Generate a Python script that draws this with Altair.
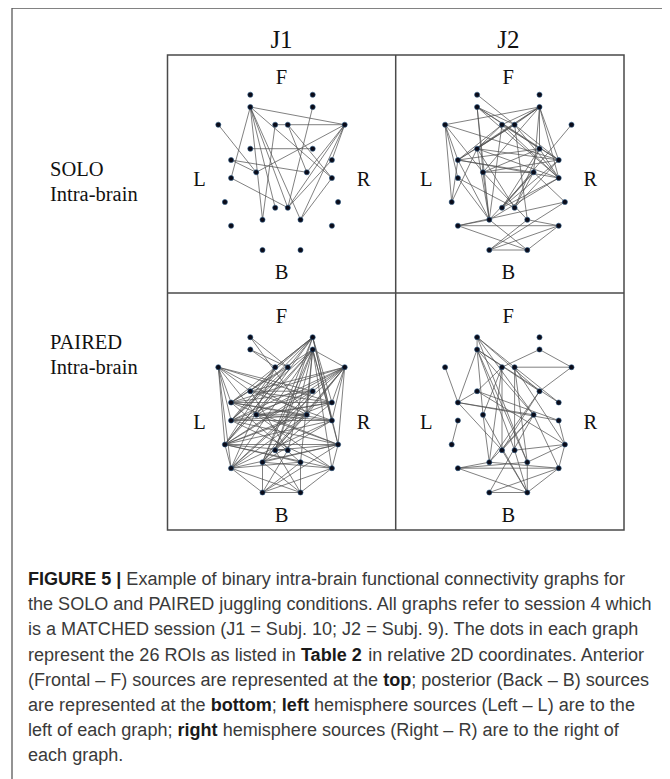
import altair as alt
import pandas as pd

# ---------------- data ----------------
# 26 ROIs, relative 2D coordinates (x: left/right offset, y: front->back offset)
roi_x = [-31.2, 31.2, -31.2, 31.2, -63.2, -6.3, 6.3, 63.2, -31.2, 31.2,
         -50.4, 50.4, -25.3, 25.3, -50.4, 50.4, -56.6, 56.6, -6.3, 6.3,
         -19.0, 19.0, -50.4, 50.4, -19.0, 19.0]
roi_y = [0, 0, 12.3, 12.3, 30, 30, 30, 30, 54, 54,
         65.3, 65.3, 77.6, 77.6, 83.3, 83.3, 107.3, 107.3, 113, 113,
         125, 125, 131, 131, 155.3, 155.3]

columns = ["J1", "J2"]
rows = ["SOLO", "PAIRED"]

edges_j1_solo = [(3, 8), (3, 15), (3, 21), (3, 20), (3, 22), (3, 16), (3, 19),
                 (4, 20), (5, 13), (6, 8), (6, 21), (7, 14), (7, 16), (8, 13),
                 (8, 20), (8, 22), (8, 12), (8, 14), (9, 10), (11, 14), (11, 13),
                 (15, 20), (12, 20), (16, 22)]

edges_j2_solo = [(1, 7), (4, 5), (4, 6), (4, 7), (4, 9), (4, 11), (4, 13), (4, 10),
                 (4, 12), (4, 16), (4, 14), (3, 7), (3, 12), (3, 16), (3, 13),
                 (3, 21), (3, 10), (5, 17), (5, 11), (5, 13), (5, 12), (5, 15),
                 (6, 11), (6, 16), (6, 12), (6, 21), (6, 9), (7, 9), (7, 11),
                 (7, 12), (7, 16), (7, 22), (8, 19), (9, 12), (9, 16), (9, 21),
                 (9, 20), (10, 11), (10, 13), (10, 19), (10, 20), (10, 16),
                 (11, 21), (11, 14), (11, 16), (12, 19), (12, 20), (12, 13),
                 (13, 14), (13, 21), (13, 22), (14, 19), (14, 20), (14, 21),
                 (15, 21), (15, 20), (16, 21), (16, 19), (17, 11), (17, 9),
                 (18, 23), (18, 25), (18, 14), (21, 23), (21, 26), (22, 25),
                 (22, 24), (23, 24), (23, 26), (24, 25), (24, 26), (25, 26)]

edges_j1_paired = [(1, 7), (1, 14), (3, 7), (3, 6),
                   (2, 11), (2, 9), (2, 13), (2, 15), (2, 17), (2, 21), (2, 19),
                   (2, 12), (2, 18), (2, 16), (2, 6),
                   (4, 8), (4, 11), (4, 13), (4, 15), (4, 17), (4, 19), (4, 20),
                   (4, 21), (4, 22), (4, 14), (4, 16), (4, 18), (4, 24), (4, 23),
                   (5, 9), (5, 11), (5, 15), (5, 17), (5, 12), (5, 14), (5, 13),
                   (5, 10), (5, 23), (6, 23), (6, 15), (6, 17), (7, 11), (7, 17),
                   (7, 15), (8, 9), (8, 11), (8, 13), (8, 15), (8, 17), (8, 10),
                   (8, 16), (8, 18), (8, 21), (8, 19), (8, 12), (8, 14), (8, 23),
                   (9, 10), (9, 12), (9, 16), (9, 20), (10, 11), (10, 15), (10, 17),
                   (10, 21), (10, 23), (11, 12), (11, 16), (11, 18), (11, 14),
                   (11, 22), (12, 15), (12, 17), (12, 13), (12, 19), (13, 14),
                   (13, 16), (13, 24), (13, 18), (14, 15), (14, 17), (14, 21),
                   (14, 23), (15, 16), (15, 18), (15, 24), (16, 17), (16, 23),
                   (16, 21), (17, 18), (17, 23), (17, 22), (17, 20), (17, 24),
                   (18, 19), (18, 21), (18, 23), (18, 24), (18, 25), (19, 20),
                   (19, 26), (20, 25), (21, 25), (21, 26), (21, 24), (22, 25),
                   (22, 26), (22, 23), (23, 25), (23, 26), (24, 25), (24, 26),
                   (25, 26)]

edges_j2_paired = [(1, 3), (1, 10), (1, 12), (1, 14), (1, 22), (3, 11), (3, 13),
                   (3, 20), (3, 14), (3, 12), (3, 22), (3, 10), (4, 6), (4, 8),
                   (7, 8), (8, 10), (5, 11), (6, 9), (6, 13), (6, 21), (6, 19),
                   (7, 18), (7, 22), (7, 20), (9, 11), (9, 16), (9, 18), (10, 21),
                   (10, 19), (11, 16), (11, 14), (11, 19), (15, 17), (13, 21),
                   (14, 21), (14, 19), (14, 24), (16, 18), (18, 22), (18, 24),
                   (18, 20), (21, 23), (21, 24), (22, 23), (22, 26), (23, 24),
                   (23, 26), (24, 25), (24, 26), (25, 26), (25, 14), (26, 19),
                   (26, 20), (26, 13)]

panel_edges = {("J1", "SOLO"): edges_j1_solo, ("J2", "SOLO"): edges_j2_solo,
               ("J1", "PAIRED"): edges_j1_paired, ("J2", "PAIRED"): edges_j2_paired}

row_titles = {"SOLO": ["SOLO", "Intra-brain"], "PAIRED": ["PAIRED", "Intra-brain"]}

caption_lines = [
    [("FIGURE 5 |", True), (" Example of binary intra-brain functional connectivity graphs for", False)],
    [("the SOLO and PAIRED juggling conditions. All graphs refer to session 4 which", False)],
    [("is a MATCHED session (J1 = Subj. 10; J2 = Subj. 9). The dots in each graph", False)],
    [("represent the 26 ROIs as listed in ", False), ("Table 2", True),
     (" in relative 2D coordinates. Anterior", False)],
    [("(Frontal \u2013 F) sources are represented at the ", False), ("top", True),
     ("; posterior (Back \u2013 B) sources", False)],
    [("are represented at the ", False), ("bottom", True), ("; ", False), ("left", True),
     (" hemisphere sources (Left \u2013 L) are to the", False)],
    [("left of each graph; ", False), ("right", True),
     (" hemisphere sources (Right \u2013 R) are to the right of", False)],
    [("each graph.", False)],
]

# ---------------- layout (page pixels) ----------------
col_center = {"J1": 281.5, "J2": 508.3}
row_base = {"SOLO": 94.7, "PAIRED": 337.2}
row_mid = {"SOLO": 182.5, "PAIRED": 355.5}
letter_y = {"SOLO": (78.3, 273.0, 180.0), "PAIRED": (316.7, 515.5, 423.3)}
box = dict(x0=167.5, x1=624.0, y0=55.0, y1=530.0, xm=395.7, ym=293.0)

nodes, edges = [], []
for (c, r), elist in panel_edges.items():
    cx, by = col_center[c], row_base[r]
    for i in range(26):
        nodes.append(dict(x=cx + roi_x[i], y=by + roi_y[i]))
    for a, b in elist:
        edges.append(dict(x=cx + roi_x[a - 1], y=by + roi_y[a - 1],
                          x2=cx + roi_x[b - 1], y2=by + roi_y[b - 1]))
nodes_df = pd.DataFrame(nodes)
edges_df = pd.DataFrame(edges)

letters = []
for c in columns:
    for r in rows:
        fy, byy, ly = letter_y[r]
        cx = col_center[c]
        letters += [dict(x=cx, y=fy, t="F"), dict(x=cx, y=byy, t="B"),
                    dict(x=cx - 82, y=ly, t="L"), dict(x=cx + 82, y=ly, t="R")]
letters_df = pd.DataFrame(letters)

col_df = pd.DataFrame([dict(x=col_center[c], y=40, t=c) for c in columns])
rowlab = []
for r in rows:
    rowlab += [dict(x=50, y=row_mid[r] - 12.5, t=row_titles[r][0]),
               dict(x=50, y=row_mid[r] + 12.5, t=row_titles[r][1])]
rowlab_df = pd.DataFrame(rowlab)

# Arial / Liberation Sans advance widths (1/1000 em)
U = "ABCDEFGHIJKLMNOPQRSTUVWXYZ"
L = "abcdefghijklmnopqrstuvwxyz"
reg = dict(zip(U, [667, 667, 722, 722, 667, 611, 778, 722, 278, 500, 667, 556, 833,
                   722, 778, 667, 778, 722, 667, 611, 722, 667, 944, 667, 667, 611]))
reg.update(zip(L, [556, 556, 500, 556, 556, 278, 556, 556, 222, 222, 500, 222, 833,
                   556, 556, 556, 556, 333, 500, 278, 556, 500, 722, 500, 500, 500]))
reg.update({" ": 278, ".": 278, ",": 278, ";": 278, ":": 278, "(": 333, ")": 333,
            "-": 333, "\u2013": 556, "=": 584, "|": 260})
bold = dict(zip(U, [722, 722, 722, 722, 667, 611, 778, 722, 278, 556, 722, 611, 833,
                    722, 778, 667, 778, 722, 667, 611, 722, 667, 944, 667, 667, 611]))
bold.update(zip(L, [556, 611, 556, 611, 556, 333, 611, 611, 278, 278, 556, 278, 889,
                    611, 611, 611, 611, 389, 556, 333, 611, 556, 778, 556, 556, 500]))
bold.update({" ": 278, ".": 278, ",": 278, ";": 333, ":": 333, "|": 280})
for d in "0123456789":
    reg[d] = 556
    bold[d] = 556


def em(s, b):
    tab = bold if b else reg
    return sum(tab.get(ch, 556) for ch in s) / 1000.0


cap_x0 = 28.0
cap_size = (635.0 - cap_x0) / sum(em(s, b) for s, b in caption_lines[5])
cap_y = [580, 605.2, 630.4, 655.6, 680.8, 706, 731.2, 756.4]
cap = []
for li, segs in enumerate(caption_lines):
    cur = cap_x0
    for s, b in segs:
        stripped = s.lstrip(" ")
        lead = em(s[:len(s) - len(stripped)], b) * cap_size
        cap.append(dict(x=cur + lead, y=cap_y[li], t=stripped.rstrip(" "), b=b))
        cur += em(s, b) * cap_size
cap_df = pd.DataFrame(cap)

frames_df = pd.DataFrame([
    dict(x=12, x2=668, y=8, y2=800, k="outer"),
    dict(x=box["x0"], x2=box["x1"], y=box["y0"], y2=box["y1"], k="box"),
])
div_df = pd.DataFrame([
    dict(x=box["xm"], x2=box["xm"], y=box["y0"], y2=box["y1"]),
    dict(x=box["x0"], x2=box["x1"], y=box["ym"], y2=box["ym"]),
])

# ---------------- chart ----------------
xs = alt.Scale(domain=[8, 662], nice=False, zero=False)
ys = alt.Scale(domain=[8, 779], nice=False, zero=False, reverse=True)
X = alt.X("x:Q", scale=xs, axis=None)
Y = alt.Y("y:Q", scale=ys, axis=None)

outer = alt.Chart(frames_df[frames_df.k == "outer"]).mark_rect(
    fillOpacity=0, stroke="#5a5a5a", strokeWidth=1.3).encode(X, Y, x2="x2:Q", y2="y2:Q")
boxr = alt.Chart(frames_df[frames_df.k == "box"]).mark_rect(
    fillOpacity=0, stroke="#4a4a4a", strokeWidth=1.5).encode(X, Y, x2="x2:Q", y2="y2:Q")
divs = alt.Chart(div_df).mark_rule(color="#4a4a4a", strokeWidth=1.5).encode(
    X, Y, x2="x2:Q", y2="y2:Q")

edge_layer = alt.Chart(edges_df).mark_rule(color="#505050", strokeWidth=0.85,
                                           opacity=0.85).encode(X, Y, x2="x2:Q", y2="y2:Q")
node_layer = alt.Chart(nodes_df).mark_point(filled=True, shape="circle", size=26,
                                            color="#0b0b18", opacity=1,
                                            stroke="#2b5a86", strokeWidth=0.6).encode(X, Y)

serif = "Liberation Serif"
letter_layer = alt.Chart(letters_df).mark_text(font=serif, fontSize=20.5, color="#111",
                                               baseline="middle", align="center").encode(X, Y, text="t:N")
col_layer = alt.Chart(col_df).mark_text(font=serif, fontSize=25, color="#111",
                                        baseline="middle", align="center").encode(X, Y, text="t:N")
row_layer = alt.Chart(rowlab_df).mark_text(font=serif, fontSize=20.5, color="#111",
                                           baseline="middle", align="left").encode(X, Y, text="t:N")

cap_reg = alt.Chart(cap_df[~cap_df.b]).mark_text(
    font="Liberation Sans", fontSize=cap_size, color="#3a3a3a",
    baseline="middle", align="left").encode(X, Y, text="t:N")
cap_bold = alt.Chart(cap_df[cap_df.b]).mark_text(
    font="Liberation Sans", fontSize=cap_size, fontWeight="bold", color="#1a1a1a",
    baseline="middle", align="left").encode(X, Y, text="t:N")

chart = alt.layer(outer, boxr, divs, edge_layer, node_layer, letter_layer, col_layer,
                  row_layer, cap_reg, cap_bold).properties(
    width=654, height=771, padding=0, autosize="none"
).configure_view(strokeWidth=0)

chart.save("out.html", embed_options={"renderer": "svg", "actions": False})
